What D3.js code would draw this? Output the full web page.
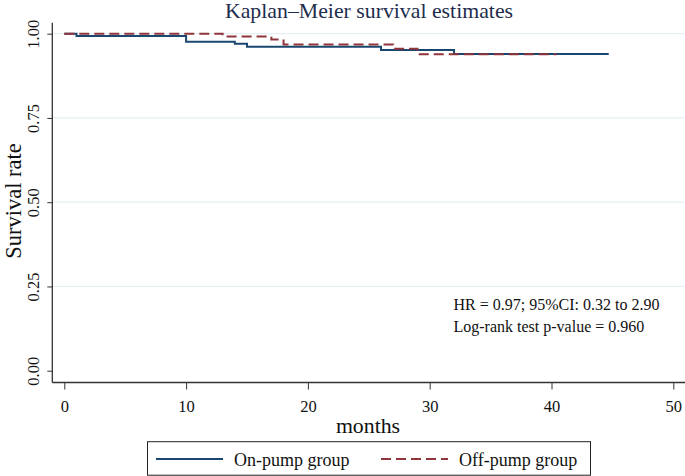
<!DOCTYPE html>
<html>
<head>
<meta charset="utf-8">
<script src="https://cdn.jsdelivr.net/npm/d3@7"></script>
<style>
  body { margin: 0; background: #fff; }
  svg { display: block; font-family: "Liberation Serif", "Times New Roman", serif; }
</style>
</head>
<body>
<svg id="km" width="685" height="476"></svg>
<script>
// Kaplan-Meier step curves
const onTimes  = [0, 1, 10, 14, 15, 26, 32, 44.7];
const onSurv   = [1, 0.993, 0.976, 0.970, 0.961, 0.952, 0.940, 0.940];
const offTimes = [0, 13, 17, 18, 27, 29, 40.4];
const offSurv  = [1, 0.992, 0.983, 0.968, 0.955, 0.939, 0.939];

const xTicks = [0, 10, 20, 30, 40, 50];
const yTicks = [0, 0.25, 0.5, 0.75, 1];
const seriesNames = ["On-pump group", "Off-pump group"];
const statLines = ["HR = 0.97; 95%CI: 0.32 to 2.90", "Log-rank test p-value = 0.960"];

const svg = d3.select('#km');
const width = 685, height = 476;
const axisX = 52.3, axisY = 382.5;

const x = d3.scaleLinear().domain([0, 50]).range([64.3, 673.3]);
const y = d3.scaleLinear().domain([0, 1]).range([370.7, 33.7]);

// title
svg.append("text")
    .attr("x", 369).attr("y", 18)
    .attr("text-anchor", "middle")
    .attr("font-size", "21.8px")
    .attr("fill", "#1e2d4d")
    .text("Kaplan\u2013Meier survival estimates");

// gridlines
svg.append("g").selectAll("line")
    .data(yTicks.filter(d => d > 0))
    .enter().append("line")
    .attr("x1", axisX).attr("x2", width)
    .attr("y1", d => y(d)).attr("y2", d => y(d))
    .attr("stroke", "#e6eff1")
    .attr("stroke-width", 1.2);

// y axis
const yAxis = svg.append("g")
    .attr("transform", `translate(${axisX},0)`)
    .call(d3.axisLeft(y).tickValues(yTicks).tickFormat(d3.format(".2f")).tickSize(5).tickSizeOuter(0));
yAxis.select(".domain").remove();
yAxis.selectAll(".tick line").attr("stroke", "#333");
yAxis.selectAll(".tick text")
    .attr("font-family", "Liberation Serif")
    .attr("font-size", "16.5px")
    .attr("fill", "#111")
    .attr("x", null).attr("dy", null)
    .attr("text-anchor", "middle")
    .attr("transform", "translate(-13,0) rotate(-90)");

// x axis
const xAxis = svg.append("g")
    .attr("transform", `translate(0,${axisY})`)
    .call(d3.axisBottom(x).tickValues(xTicks).tickFormat(d3.format("d")).tickSize(7).tickSizeOuter(0));
xAxis.select(".domain").remove();
xAxis.selectAll(".tick line").attr("stroke", "#333");
xAxis.selectAll(".tick text")
    .attr("font-family", "Liberation Serif")
    .attr("font-size", "16.5px")
    .attr("fill", "#111")
    .attr("dy", null)
    .attr("y", 29);

// axis lines
svg.append("line")
    .attr("x1", axisX).attr("x2", axisX)
    .attr("y1", 22.7).attr("y2", axisY)
    .attr("stroke", "#333").attr("stroke-width", 1.3);
svg.append("line")
    .attr("x1", axisX).attr("x2", width)
    .attr("y1", axisY).attr("y2", axisY)
    .attr("stroke", "#333").attr("stroke-width", 1.3);

// axis titles
svg.append("text")
    .attr("transform", "translate(20.5,201) rotate(-90)")
    .attr("text-anchor", "middle")
    .attr("font-size", "22.5px")
    .attr("fill", "#111")
    .text("Survival rate");
svg.append("text")
    .attr("x", 368).attr("y", 433)
    .attr("text-anchor", "middle")
    .attr("font-size", "21.8px")
    .attr("fill", "#111")
    .text("months");

// curves
const line = d3.line()
    .x(d => x(d[0]))
    .y(d => y(d[1]))
    .curve(d3.curveStepAfter);

svg.append("path")
    .datum(onTimes.map((t, i) => [t, onSurv[i]]))
    .attr("d", line)
    .attr("fill", "none")
    .attr("stroke", "#1a476f")
    .attr("stroke-width", 2);

svg.append("path")
    .datum(offTimes.map((t, i) => [t, offSurv[i]]))
    .attr("d", line)
    .attr("fill", "none")
    .attr("stroke", "#90353b")
    .attr("stroke-width", 2)
    .attr("stroke-dasharray", "10,5");

// stats text
svg.append("g").selectAll("text")
    .data(statLines)
    .enter().append("text")
    .attr("x", 453.5)
    .attr("y", (d, i) => 310 + i * 21.7)
    .attr("font-size", "16px")
    .attr("fill", "#111")
    .text(d => d);

// legend
const legend = svg.append("g");
legend.append("rect")
    .attr("x", 147.5).attr("y", 441.7)
    .attr("width", 443).attr("height", 33.5)
    .attr("fill", "#fff")
    .attr("stroke", "#222")
    .attr("stroke-width", 1);

const legendItems = [
    { name: seriesNames[0], color: "#1a476f", dash: null, x0: 156 },
    { name: seriesNames[1], color: "#90353b", dash: "10,5", x0: 381 }
];
const li = legend.selectAll("g.item")
    .data(legendItems)
    .enter().append("g")
    .attr("class", "item");
li.append("line")
    .attr("x1", d => d.x0).attr("x2", d => d.x0 + 67)
    .attr("y1", 459).attr("y2", 459)
    .attr("stroke", d => d.color)
    .attr("stroke-width", 2)
    .attr("stroke-dasharray", d => d.dash);
li.append("text")
    .attr("x", d => d.x0 + 78)
    .attr("y", 466)
    .attr("font-size", "18px")
    .attr("fill", "#111")
    .text(d => d.name);
</script>
</body>
</html>
